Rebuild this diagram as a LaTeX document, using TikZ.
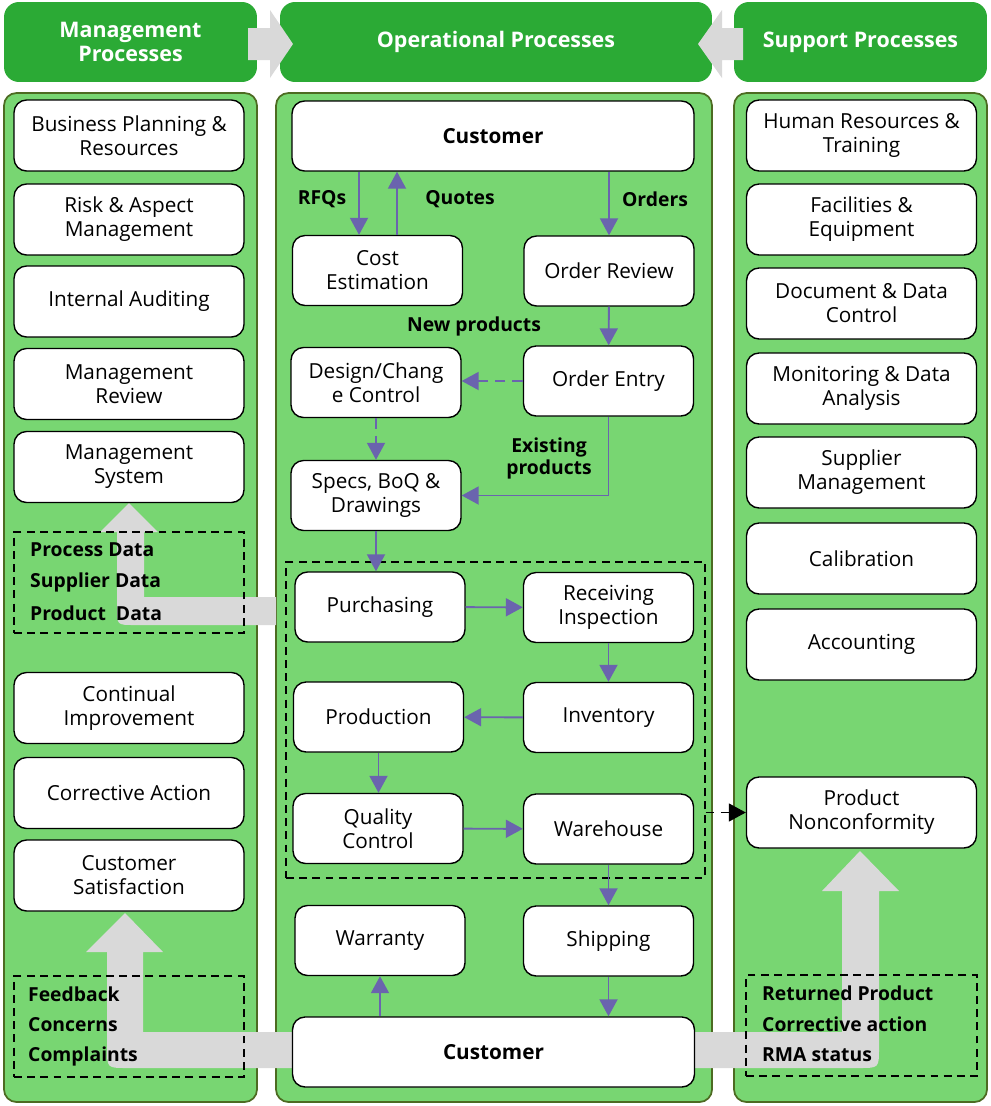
\documentclass[tikz,border=0pt]{standalone}
\usepackage{fontspec}
\setmainfont{Open Sans}
\usetikzlibrary{arrows.meta}

\definecolor{headgreen}{HTML}{2BAA35}
\definecolor{colgreen}{HTML}{78D672}
\definecolor{colborder}{HTML}{4D6B22}
\definecolor{flowgray}{HTML}{D9D9D9}
\definecolor{flowpurple}{HTML}{6A64AE}

\tikzset{
    header/.style={fill=headgreen, rounded corners=0.3cm, text=white, align=center,
        font=\fontsize{12.2}{13.8}\selectfont\bfseries},
    column/.style={fill=colgreen, draw=colborder, line width=1pt, rounded corners=0.25cm},
    procbox/.style={draw, fill=white, line width=0.8pt, rounded corners=0.25cm, align=center,
        minimum width=4.6cm, minimum height=1.42cm, font=\fontsize{11.8}{13.6}\selectfont},
    opbox/.style={procbox, minimum width=3.4cm, minimum height=1.4cm},
    custbox/.style={procbox, minimum width=8.04cm, minimum height=1.4cm, font=\fontsize{11.8}{13.6}\selectfont\bfseries},
    databox/.style={draw, dashed, line width=0.8pt, dash pattern=on 4.5pt off 3pt},
    datatext/.style={anchor=west, font=\fontsize{11}{12}\selectfont\bfseries},
    flowlabel/.style={font=\fontsize{11}{12.5}\selectfont\bfseries, align=center},
    flow/.style={draw=flowpurple, line width=1.1pt, -{Triangle[width=0.36cm,length=0.34cm]}},
    bigarrow/.style={fill=flowgray}
}

\begin{document}
\begin{tikzpicture}[x=0.02cm, y=-0.02cm]
\useasboundingbox (0,0) rectangle (991,1106);

% headers
\node (mgmthead) [header, minimum width=5.06cm, minimum height=1.6cm] at (130.5,42) {Management\\Processes};
\node (ophead) [header, minimum width=8.64cm, minimum height=1.6cm] at (496,42) {Operational Processes};
\node (suphead) [header, minimum width=5.06cm, minimum height=1.6cm] at (860.5,42) {Support Processes};
\fill[bigarrow] (248,28) -- (270,28) -- (270,10) -- (293,44) -- (270,78) -- (270,60) -- (248,60) -- cycle;
\fill[bigarrow] (743,28) -- (722,28) -- (722,10) -- (698,44) -- (722,78) -- (722,60) -- (743,60) -- cycle;

% columns
\draw[column] (4,93) rectangle (257,1102);
\draw[column] (276,93) rectangle (712,1102);
\draw[column] (734,93) rectangle (987,1102);

% wide gray flows
\fill[bigarrow] (276,597) -- (144,597) -- (144,532) -- (158,532) -- (129,503) -- (100,532) -- (117,532)
    -- (117,608) .. controls (117,625) .. (134,625) -- (276,625) -- cycle;
\fill[bigarrow] (300,1032) -- (143,1032) -- (143,952) -- (163,952) -- (125,913) -- (86,952) -- (107,952)
    -- (107,1048) .. controls (107,1068) .. (127,1068) -- (300,1068) -- cycle;
\fill[bigarrow] (690,1032) -- (842,1032) -- (842,891) -- (822,891) -- (860,851) -- (899,891) -- (879,891)
    -- (879,1048) .. controls (879,1068) .. (859,1068) -- (690,1068) -- cycle;

% data groups
\node (mgmtdata) [databox, minimum width=4.6cm, minimum height=2.02cm] at (129,582.5) {};
\node [datatext] at (24,550) {Process Data};
\node [datatext] at (24,582) {Supplier Data};
\node [datatext] at (24,613) {Product~~Data};

\node (custdata) [databox, minimum width=4.6cm, minimum height=2.02cm] at (129,1026.5) {};
\node [datatext] at (22,994) {Feedback};
\node [datatext] at (22,1025) {Concerns};
\node [datatext] at (22,1056) {Complaints};

\node (retdata) [databox, minimum width=4.62cm, minimum height=2.02cm] at (861.5,1025.5) {};
\node [datatext] at (756,993) {Returned Product};
\node [datatext] at (756,1024) {Corrective action};
\node [datatext] at (756,1055) {RMA status};

% management processes
\node (bizplan) [procbox] at (129,135.5) {Business Planning \&\\Resources};
\node (risk) [procbox] at (129,219.5) {Risk \& Aspect\\Management};
\node (audit) [procbox] at (129,301.5) {Internal Auditing};
\node (mreview) [procbox] at (129,384) {Management\\Review};
\node (msystem) [procbox] at (129,467) {Management\\System};
\node (improve) [procbox] at (129,708) {Continual\\Improvement};
\node (corract) [procbox] at (129,793) {Corrective Action};
\node (satisf) [procbox] at (129,875.5) {Customer\\Satisfaction};

% support processes
\node (hr) [procbox] at (861.5,135.5) {Human Resources \&\\Training};
\node (facil) [procbox] at (861.5,219.5) {Facilities \&\\Equipment};
\node (docctl) [procbox] at (861.5,303.5) {Document \& Data\\Control};
\node (monitor) [procbox] at (861.5,388.5) {Monitoring \& Data\\Analysis};
\node (supmgmt) [procbox] at (861.5,472.5) {Supplier\\Management};
\node (calib) [procbox] at (861.5,558.5) {Calibration};
\node (account) [procbox] at (861.5,644.5) {Accounting};
\node (nonconf) [procbox] at (861.5,812.5) {Product\\Nonconformity};

% operational processes
\node (custtop) [custbox] at (493,136) {Customer};
\node (cost) [opbox] at (377.5,270.5) {Cost\\Estimation};
\node (oreview) [opbox] at (609,271) {Order Review};
\node (design) [opbox] at (376,382.5) {Design/Chang\\e Control};
\node (oentry) [opbox] at (608.5,381) {Order Entry};
\node (specs) [opbox] at (376,495.5) {Specs, BoQ \&\\Drawings};
\node (opgroup) [databox, minimum width=8.38cm, minimum height=6.32cm] at (495.5,720) {};
\node (purch) [opbox] at (380,607) {Purchasing};
\node (recv) [opbox] at (608.5,607.5) {Receiving\\Inspection};
\node (prod) [opbox] at (378.5,717) {Production};
\node (invent) [opbox] at (608.5,717.5) {Inventory};
\node (qc) [opbox] at (378,828.5) {Quality\\Control};
\node (wareh) [opbox] at (608.5,829) {Warehouse};
\node (warr) [opbox] at (380,940.5) {Warranty};
\node (ship) [opbox] at (608.5,941) {Shipping};
\node (custbot) [custbox] at (493.5,1052) {Customer};

% flow labels
\node [flowlabel] at (322,199) {RFQs};
\node [flowlabel] at (460,199) {Quotes};
\node [flowlabel] at (655,199) {Orders};
\node [flowlabel] at (474,326) {New products};
\node [flowlabel] at (549,458) {Existing\\products};

% flows
\draw[flow] (custtop.south -| 359,0) -- (cost.north -| 359,0);
\draw[flow] (cost.north -| 397,0) -- (custtop.south -| 397,0);
\draw[flow] (custtop.south -| oreview.north) -- (oreview.north);
\draw[flow] (oreview) -- (oentry);
\draw[flow, dash pattern=on 6pt off 4pt] (oentry.west) -- (design.east |- oentry.west);
\draw[flow, dash pattern=on 6pt off 4pt] (design) -- (specs);
\draw[flow] (oentry.south) |- (specs.east);
\draw[flow] (specs.south) -- (purch.north -| specs.south);
\draw[flow] (purch) -- (recv);
\draw[flow] (recv) -- (invent);
\draw[flow] (invent) -- (prod);
\draw[flow] (prod) -- (qc.north -| prod.south);
\draw[flow] (qc) -- (wareh);
\draw[flow] (wareh) -- (ship);
\draw[flow] (ship.south) -- (custbot.north -| ship.south);
\draw[flow] (custbot.north -| warr.south) -- (warr.south);
\draw[line width=0.9pt, dash pattern=on 5pt off 3.5pt, -{Triangle[width=0.36cm,length=0.34cm]}] (opgroup.east |- nonconf.west) -- (nonconf.west);

\end{tikzpicture}
\end{document}
